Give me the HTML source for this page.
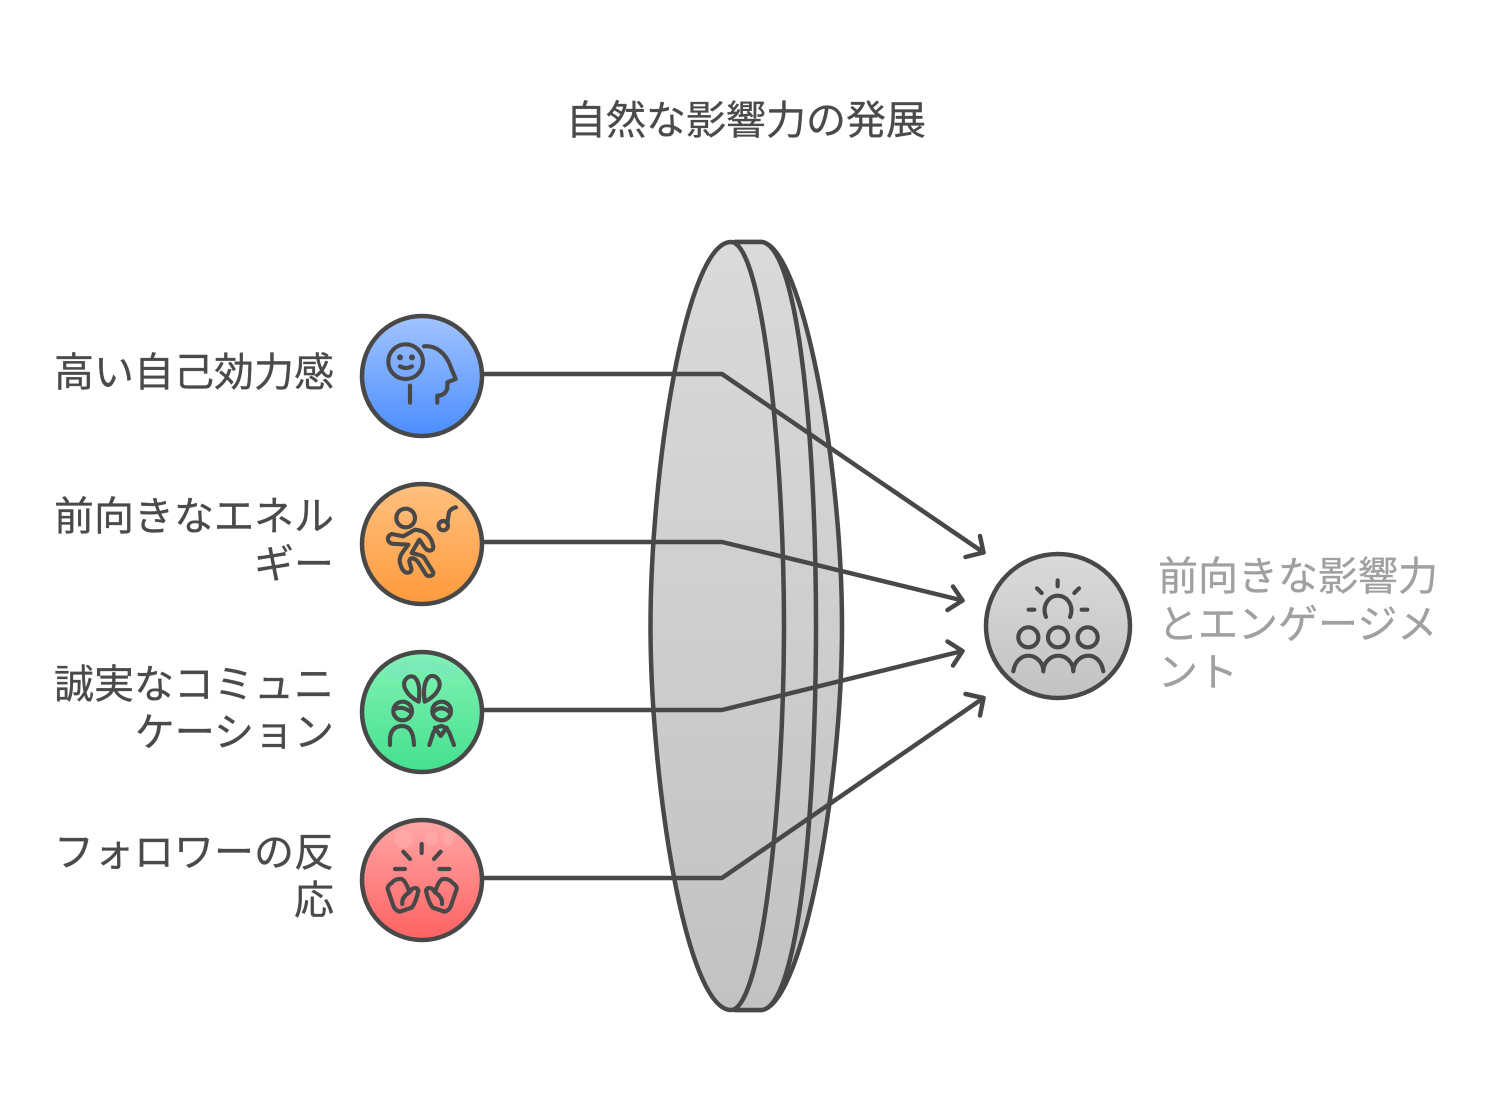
<!DOCTYPE html>
<html><head><meta charset="utf-8"><style>
html,body{margin:0;padding:0;background:#fff}
svg{display:block}
text{font-family:"Liberation Sans","Noto Sans CJK JP",sans-serif;font-size:40px;fill:#4a4a4a;stroke:#4a4a4a;stroke-width:.3}
.g{fill:#a0a0a0;stroke:#a0a0a0}
.i{fill:none;stroke:#484848;stroke-width:12.5;stroke-linecap:round;stroke-linejoin:round}
</style></head><body>
<svg width="1492" height="1108" viewBox="0 0 1492 1108" xmlns="http://www.w3.org/2000/svg">
<defs>
<linearGradient id="gg" x1="0" y1="0" x2="0" y2="1"><stop offset="0" stop-color="#dadada"/><stop offset="1" stop-color="#c2c2c2"/></linearGradient>
<linearGradient id="gb" x1="0" y1="0" x2="0" y2="1"><stop offset="0" stop-color="#a2c4ff"/><stop offset="1" stop-color="#4b8dff"/></linearGradient>
<linearGradient id="go" x1="0" y1="0" x2="0" y2="1"><stop offset="0" stop-color="#ffc07e"/><stop offset="1" stop-color="#ff9a3d"/></linearGradient>
<linearGradient id="gn" x1="0" y1="0" x2="0" y2="1"><stop offset="0" stop-color="#82f2b4"/><stop offset="1" stop-color="#45e08f"/></linearGradient>
<linearGradient id="gr" x1="0" y1="0" x2="0" y2="1"><stop offset="0" stop-color="#ffa6a6"/><stop offset="1" stop-color="#ff6262"/></linearGradient>
</defs>

<text x="746" y="134" text-anchor="middle">自然な影響力の発展</text>

<text x="334" y="386" text-anchor="end">高い自己効力感</text>
<text x="334" y="530" text-anchor="end">前向きなエネル</text>
<text x="334" y="578" text-anchor="end">ギー</text>
<text x="334" y="698" text-anchor="end">誠実なコミュニ</text>
<text x="334" y="746" text-anchor="end">ケーション</text>
<text x="334" y="866" text-anchor="end">フォロワーの反</text>
<text x="334" y="914" text-anchor="end">応</text>
<text x="1158" y="590" class="g">前向きな影響力</text>
<text x="1158" y="638" class="g">とエンゲージメ</text>
<text x="1158" y="686" class="g">ント</text>

<!-- lens -->
<g fill="url(#gg)" stroke="#484848" stroke-width="4.5" stroke-linejoin="round">
<path d="M735 242H762C802 248 842 460 842 626C842 792 802 1004 762 1010H735Z"/>
<path d="M735 242H762C800 248 816 450 816 626C816 802 800 1004 762 1010H735Z"/>
<path d="M731 242C686 242 650.5 470 650.5 626C650.5 782 686 1010 731 1010C762 1010 784 800 784 626C784 452 762 242 731 242Z"/>
</g>

<!-- connectors -->
<g fill="none" stroke="#484848" stroke-width="4.5" stroke-linecap="round" stroke-linejoin="round">
<path d="M482 374H722L983.5 552.5"/><path d="M980 536L983.5 552.5L965.5 557"/>
<path d="M482 542H722L962.5 600.5"/><path d="M953 586.5L962.5 600.5L947.5 610"/>
<path d="M482 710H722L962.5 651"/><path d="M947.5 641.5L962.5 651L953 665.5"/>
<path d="M482 878H722L983.5 698"/><path d="M965.5 694L983.5 698L980 715.5"/>
</g>

<!-- circles -->
<g stroke="#484848" stroke-width="4.5">
<circle cx="422" cy="376" r="60" fill="url(#gb)"/>
<circle cx="422" cy="544" r="60" fill="url(#go)"/>
<circle cx="422" cy="712" r="60" fill="url(#gn)"/>
<circle cx="422" cy="880" r="60" fill="url(#gr)"/>
<circle cx="1058" cy="626" r="72" fill="url(#gg)"/>
</g>

<!-- icon 1 -->
<g transform="translate(350 305) scale(.3333)" class="i">
<circle cx="167" cy="170" r="52"/>
<path d="M150 157h.1M186 157h.1" stroke-width="18"/>
<path d="M150 184Q168 194 186 184"/>
<path d="M180 242V293"/>
<path d="M222 124C262 120 288 150 300 180C306 198 312 208 317 222L292 232V250Q285 272 262 272V293"/>
</g>
<!-- icon 2 -->
<g transform="translate(350 473) scale(.3333)" class="i">
<path d="M85 100Q130 125 200 120" style="stroke:#ffcb98;stroke-width:3" opacity=".7"/>
<circle cx="167" cy="135" r="28"/>
<circle cx="280" cy="158" r="14"/>
<path d="M292 150L297 118Q303 106 318 103"/>
<path d="M195 170C225 172 245 190 250 222C250 235 235 235 228 228C220 220 215 208 208 200L185 240C200 245 220 245 225 258L250 298C250 310 235 312 228 305L205 268C195 255 180 250 178 265C180 280 190 290 180 297C165 305 155 290 150 270C145 250 160 235 175 215L125 212C110 205 110 190 125 183L160 190Z"/>
</g>
<!-- icon 3 -->
<g transform="translate(350 641) scale(.3333)">
<path d="M100 85Q215 30 325 85L320 105L200 85L135 118Z" fill="#7ce4c0" opacity=".6"/>
<g class="i">
<path d="M206 182C172 165 148 130 172 110C195 95 214 122 206 182Z"/>
<path d="M224 182C260 165 284 130 258 108C235 95 216 122 224 182Z"/>
<circle cx="158" cy="210" r="28"/>
<path d="M131 205Q160 192 185 216"/>
<circle cx="275" cy="210" r="28"/>
<path d="M250 213Q272 190 299 213"/>
<path d="M120 312V290Q125 255 157 255Q190 255 192 312"/>
<path d="M238 312L250 275Q258 258 272 255Q290 258 298 275L312 312"/>
<path d="M255 260L272 285L290 260"/>
</g></g>
<!-- icon 4 -->
<g transform="translate(350 809) scale(.3333)">
<g fill="#ffb0b0" opacity=".5"><circle cx="160" cy="90" r="28"/><circle cx="245" cy="90" r="20"/><ellipse cx="295" cy="90" rx="14" ry="22"/></g>
<g class="i">
<path d="M215 105V132M160 128L180 150M272 128L252 150M135 180H165M268 180H298"/>
<g id="glove"><path d="M125 222Q135 208 155 210Q168 216 178 250L186 240Q200 232 205 245Q198 280 185 296L150 308Q135 305 130 290L113 240Q112 230 125 222Z"/>
<path d="M157 285C155 268 165 258 178 250"/></g>
<g transform="translate(433 0) scale(-1 1)"><path d="M125 222Q135 208 155 210Q168 216 178 250L186 240Q200 232 205 245Q198 280 185 296L150 308Q135 305 130 290L113 240Q112 230 125 222Z"/>
<path d="M157 285C155 268 165 258 178 250"/></g>
</g></g>
<!-- end icon -->
<g transform="translate(975 543) scale(.3333)" class="i">
<path d="M213 222C200 190 220 158 248 158C278 158 298 190 285 222"/>
<path d="M248 112V130M186 136L200 150M312 136L298 150M161 200H178M320 200H337"/>
<circle cx="160" cy="283" r="30"/><circle cx="249" cy="283" r="30"/><circle cx="338" cy="283" r="30"/>
<path d="M115 385C120 352 142 338 160 338C185 338 205 360 205 385C205 360 225 338 250 338C275 338 295 360 295 385C295 360 315 338 340 338C362 338 380 355 385 385"/>
</g>
</svg>
</body></html>
